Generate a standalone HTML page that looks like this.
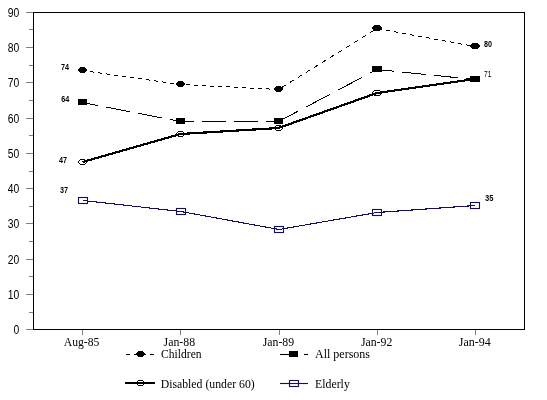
<!DOCTYPE html><html><head><meta charset="utf-8"><style>html,body{margin:0;padding:0;background:#fff;width:547px;height:400px;overflow:hidden}svg{display:block;will-change:transform}</style></head><body>
<svg width="547" height="400" viewBox="0 0 547 400">
<rect x="0" y="0" width="547" height="400" fill="#fff"/>
<line x1="26" y1="329.5" x2="33" y2="329.5" stroke="#808080" stroke-width="1"/>
<text x="13.55" y="333.5" font-family="Liberation Sans" font-size="12.5" textLength="5.75" lengthAdjust="spacingAndGlyphs" fill="#000">0</text>
<line x1="29" y1="312.5" x2="33" y2="312.5" stroke="#808080" stroke-width="1"/>
<line x1="26" y1="294.5" x2="33" y2="294.5" stroke="#808080" stroke-width="1"/>
<text x="7.80" y="298.5" font-family="Liberation Sans" font-size="12.5" textLength="11.50" lengthAdjust="spacingAndGlyphs" fill="#000">10</text>
<line x1="29" y1="276.5" x2="33" y2="276.5" stroke="#808080" stroke-width="1"/>
<line x1="26" y1="259.5" x2="33" y2="259.5" stroke="#808080" stroke-width="1"/>
<text x="7.80" y="263.5" font-family="Liberation Sans" font-size="12.5" textLength="11.50" lengthAdjust="spacingAndGlyphs" fill="#000">20</text>
<line x1="29" y1="241.5" x2="33" y2="241.5" stroke="#808080" stroke-width="1"/>
<line x1="26" y1="223.5" x2="33" y2="223.5" stroke="#808080" stroke-width="1"/>
<text x="7.80" y="227.5" font-family="Liberation Sans" font-size="12.5" textLength="11.50" lengthAdjust="spacingAndGlyphs" fill="#000">30</text>
<line x1="29" y1="206.5" x2="33" y2="206.5" stroke="#808080" stroke-width="1"/>
<line x1="26" y1="188.5" x2="33" y2="188.5" stroke="#808080" stroke-width="1"/>
<text x="7.80" y="192.5" font-family="Liberation Sans" font-size="12.5" textLength="11.50" lengthAdjust="spacingAndGlyphs" fill="#000">40</text>
<line x1="29" y1="171.5" x2="33" y2="171.5" stroke="#808080" stroke-width="1"/>
<line x1="26" y1="153.5" x2="33" y2="153.5" stroke="#808080" stroke-width="1"/>
<text x="7.80" y="157.5" font-family="Liberation Sans" font-size="12.5" textLength="11.50" lengthAdjust="spacingAndGlyphs" fill="#000">50</text>
<line x1="29" y1="135.5" x2="33" y2="135.5" stroke="#808080" stroke-width="1"/>
<line x1="26" y1="118.5" x2="33" y2="118.5" stroke="#808080" stroke-width="1"/>
<text x="7.80" y="122.5" font-family="Liberation Sans" font-size="12.5" textLength="11.50" lengthAdjust="spacingAndGlyphs" fill="#000">60</text>
<line x1="29" y1="100.5" x2="33" y2="100.5" stroke="#808080" stroke-width="1"/>
<line x1="26" y1="82.5" x2="33" y2="82.5" stroke="#808080" stroke-width="1"/>
<text x="7.80" y="86.5" font-family="Liberation Sans" font-size="12.5" textLength="11.50" lengthAdjust="spacingAndGlyphs" fill="#000">70</text>
<line x1="29" y1="65.5" x2="33" y2="65.5" stroke="#808080" stroke-width="1"/>
<line x1="26" y1="47.5" x2="33" y2="47.5" stroke="#808080" stroke-width="1"/>
<text x="7.80" y="51.5" font-family="Liberation Sans" font-size="12.5" textLength="11.50" lengthAdjust="spacingAndGlyphs" fill="#000">80</text>
<line x1="29" y1="29.5" x2="33" y2="29.5" stroke="#808080" stroke-width="1"/>
<line x1="26" y1="12.5" x2="33" y2="12.5" stroke="#808080" stroke-width="1"/>
<text x="7.80" y="16.5" font-family="Liberation Sans" font-size="12.5" textLength="11.50" lengthAdjust="spacingAndGlyphs" fill="#000">90</text>
<line x1="82.5" y1="330" x2="82.5" y2="335" stroke="#808080" stroke-width="1"/>
<text x="63.8" y="345.5" font-family="Liberation Serif" font-size="13" textLength="35.60000000000001" lengthAdjust="spacingAndGlyphs" fill="#000">Aug-85</text>
<line x1="180.5" y1="330" x2="180.5" y2="335" stroke="#808080" stroke-width="1"/>
<text x="163.6" y="345.5" font-family="Liberation Serif" font-size="13" textLength="31.49999999999999" lengthAdjust="spacingAndGlyphs" fill="#000">Jan-88</text>
<line x1="279.5" y1="330" x2="279.5" y2="335" stroke="#808080" stroke-width="1"/>
<text x="262.7" y="345.5" font-family="Liberation Serif" font-size="13" textLength="31.400000000000023" lengthAdjust="spacingAndGlyphs" fill="#000">Jan-89</text>
<line x1="377.5" y1="330" x2="377.5" y2="335" stroke="#808080" stroke-width="1"/>
<text x="360.9" y="345.5" font-family="Liberation Serif" font-size="13" textLength="31.400000000000023" lengthAdjust="spacingAndGlyphs" fill="#000">Jan-92</text>
<line x1="475.5" y1="330" x2="475.5" y2="335" stroke="#808080" stroke-width="1"/>
<text x="458.8" y="345.5" font-family="Liberation Serif" font-size="13" textLength="31.899999999999967" lengthAdjust="spacingAndGlyphs" fill="#000">Jan-94</text>
<rect x="33.5" y="12.5" width="491" height="317" fill="none" stroke="#000" stroke-width="1"/>
<polyline points="83.0,200.5 181.0,211.5 279.0,229.5 377.0,212.5 475.0,205.5" fill="none" stroke="#10105e" stroke-width="1.1" shape-rendering="crispEdges"/>
<polyline points="82.5,162.0 180.5,134.0 278.5,128.0 377.0,93.0 475.0,79.0" fill="none" stroke="#000" stroke-width="2.2" shape-rendering="crispEdges"/>
<path d="M82.50,102.50L98.00,105.51M106.00,107.06L130.00,111.71M138.00,113.26L162.00,117.91M170.00,119.46L180.50,121.50M180.50,121.50L194.00,121.50M202.00,121.50L226.00,121.50M234.00,121.50L258.00,121.50M266.00,121.50L278.50,121.50M278.50,121.50L298.00,111.21M306.00,106.98L330.00,94.31M338.00,90.09L362.00,77.42M370.00,73.20L377.00,69.50M377.00,69.50L394.00,71.23M402.00,72.05L426.00,74.50M434.00,75.32L458.00,77.77M466.00,78.58L475.00,79.50" fill="none" stroke="#000" stroke-width="1" shape-rendering="crispEdges"/>
<path d="M82.50,70.50L86.00,71.00M90.00,71.57L94.00,72.14M98.00,72.71L102.00,73.29M106.00,73.86L110.00,74.43M114.00,75.00L118.00,75.57M122.00,76.14L126.00,76.71M130.00,77.29L134.00,77.86M138.00,78.43L142.00,79.00M146.00,79.57L150.00,80.14M154.00,80.71L158.00,81.29M162.00,81.86L166.00,82.43M170.00,83.00L174.00,83.57M178.00,84.14L180.50,84.50M180.50,84.50L182.00,84.58M186.00,84.78L190.00,84.98M194.00,85.19L198.00,85.39M202.00,85.60L206.00,85.80M210.00,86.01L214.00,86.21M218.00,86.41L222.00,86.62M226.00,86.82L230.00,87.03M234.00,87.23L238.00,87.43M242.00,87.64L246.00,87.84M250.00,88.05L254.00,88.25M258.00,88.45L262.00,88.66M266.00,88.86L270.00,89.07M274.00,89.27L278.00,89.47M282.00,87.33L286.00,84.86M290.00,82.38L294.00,79.90M298.00,77.42L302.00,74.95M306.00,72.47L310.00,69.99M314.00,67.52L318.00,65.04M322.00,62.56L326.00,60.08M330.00,57.61L334.00,55.13M338.00,52.65L342.00,50.18M346.00,47.70L350.00,45.22M354.00,42.74L358.00,40.27M362.00,37.79L366.00,35.31M370.00,32.84L374.00,30.36M378.00,28.68L382.00,29.42M386.00,30.15L390.00,30.89M394.00,31.62L398.00,32.36M402.00,33.09L406.00,33.83M410.00,34.56L414.00,35.30M418.00,36.03L422.00,36.77M426.00,37.50L430.00,38.23M434.00,38.97L438.00,39.70M442.00,40.44L446.00,41.17M450.00,41.91L454.00,42.64M458.00,43.38L462.00,44.11M466.00,44.85L470.00,45.58M474.00,46.32L475.00,46.50" fill="none" stroke="#000" stroke-width="1" shape-rendering="crispEdges"/>
<rect x="78.5" y="197.5" width="9" height="6" fill="none" stroke="#10105e" stroke-width="1.1"/>
<rect x="176.5" y="208.5" width="9" height="6" fill="none" stroke="#10105e" stroke-width="1.1"/>
<rect x="274.5" y="226.5" width="9" height="6" fill="none" stroke="#10105e" stroke-width="1.1"/>
<rect x="372.5" y="209.5" width="9" height="6" fill="none" stroke="#10105e" stroke-width="1.1"/>
<rect x="470.5" y="202.5" width="9" height="6" fill="none" stroke="#10105e" stroke-width="1.1"/>
<rect x="80" y="159" width="5" height="1" fill="#000"/><rect x="80" y="164" width="5" height="1" fill="#000"/><rect x="79" y="160" width="1" height="1" fill="#000"/><rect x="85" y="160" width="1" height="1" fill="#000"/><rect x="79" y="163" width="1" height="1" fill="#000"/><rect x="85" y="163" width="1" height="1" fill="#000"/><rect x="78" y="161" width="1" height="2" fill="#000"/><rect x="86" y="161" width="1" height="2" fill="#000"/>
<rect x="178" y="131" width="5" height="1" fill="#000"/><rect x="178" y="136" width="5" height="1" fill="#000"/><rect x="177" y="132" width="1" height="1" fill="#000"/><rect x="183" y="132" width="1" height="1" fill="#000"/><rect x="177" y="135" width="1" height="1" fill="#000"/><rect x="183" y="135" width="1" height="1" fill="#000"/><rect x="176" y="133" width="1" height="2" fill="#000"/><rect x="184" y="133" width="1" height="2" fill="#000"/>
<rect x="276" y="125" width="5" height="1" fill="#000"/><rect x="276" y="130" width="5" height="1" fill="#000"/><rect x="275" y="126" width="1" height="1" fill="#000"/><rect x="281" y="126" width="1" height="1" fill="#000"/><rect x="275" y="129" width="1" height="1" fill="#000"/><rect x="281" y="129" width="1" height="1" fill="#000"/><rect x="274" y="127" width="1" height="2" fill="#000"/><rect x="282" y="127" width="1" height="2" fill="#000"/>
<rect x="374" y="90" width="6" height="1" fill="#000"/><rect x="374" y="95" width="6" height="1" fill="#000"/><rect x="373" y="91" width="1" height="1" fill="#000"/><rect x="380" y="91" width="1" height="1" fill="#000"/><rect x="373" y="94" width="1" height="1" fill="#000"/><rect x="380" y="94" width="1" height="1" fill="#000"/><rect x="372" y="92" width="1" height="2" fill="#000"/><rect x="381" y="92" width="1" height="2" fill="#000"/>
<rect x="472" y="76" width="6" height="1" fill="#000"/><rect x="472" y="81" width="6" height="1" fill="#000"/><rect x="471" y="77" width="1" height="1" fill="#000"/><rect x="478" y="77" width="1" height="1" fill="#000"/><rect x="471" y="80" width="1" height="1" fill="#000"/><rect x="478" y="80" width="1" height="1" fill="#000"/><rect x="470" y="78" width="1" height="2" fill="#000"/><rect x="479" y="78" width="1" height="2" fill="#000"/>
<rect x="78" y="99" width="9" height="6" fill="#000"/>
<rect x="176" y="118" width="9" height="6" fill="#000"/>
<rect x="274" y="118" width="9" height="6" fill="#000"/>
<rect x="372" y="66" width="10" height="6" fill="#000"/>
<rect x="470" y="76" width="10" height="6" fill="#000"/>
<path d="M80,67H85V68H86V69H87V71H86V72H85V73H80V72H79V71H78V69H79V68H80Z" fill="#000"/>
<path d="M178,81H183V82H184V83H185V85H184V86H183V87H178V86H177V85H176V83H177V82H178Z" fill="#000"/>
<path d="M276,86H281V87H282V88H283V90H282V91H281V92H276V91H275V90H274V88H275V87H276Z" fill="#000"/>
<path d="M374,25H380V26H381V27H382V29H381V30H380V31H374V30H373V29H372V27H373V26H374Z" fill="#000"/>
<path d="M472,43H478V44H479V45H480V47H479V48H478V49H472V48H471V47H470V45H471V44H472Z" fill="#000"/>
<text x="61" y="70" font-family="Liberation Sans" font-size="8.5" font-weight="bold" textLength="8" lengthAdjust="spacingAndGlyphs" fill="#000">74</text>
<text x="61.2" y="101.8" font-family="Liberation Sans" font-size="8.5" font-weight="bold" textLength="8" lengthAdjust="spacingAndGlyphs" fill="#000">64</text>
<text x="59" y="162.8" font-family="Liberation Sans" font-size="8.5" font-weight="bold" textLength="8" lengthAdjust="spacingAndGlyphs" fill="#000">47</text>
<text x="60" y="193" font-family="Liberation Sans" font-size="8.5" font-weight="bold" textLength="8" lengthAdjust="spacingAndGlyphs" fill="#000">37</text>
<text x="484.1" y="46.8" font-family="Liberation Sans" font-size="8.5" font-weight="bold" textLength="8" lengthAdjust="spacingAndGlyphs" fill="#000">80</text>
<text x="484" y="77.1" font-family="Liberation Sans" font-size="8.5" font-weight="normal" textLength="7.4" lengthAdjust="spacingAndGlyphs" fill="#000">71</text>
<text x="485" y="200.8" font-family="Liberation Sans" font-size="8.5" font-weight="bold" textLength="8.4" lengthAdjust="spacingAndGlyphs" fill="#000">35</text>
<line x1="126" y1="354.5" x2="154" y2="354.5" stroke="#000" stroke-width="1.1" stroke-dasharray="4 4"/>
<path d="M138,351H143V352H144V353H145V355H144V356H143V357H138V356H137V355H136V353H137V352H138Z" fill="#000"/>
<text x="161" y="357.6" font-family="Liberation Serif" font-size="12.5" textLength="40.6" lengthAdjust="spacingAndGlyphs" fill="#000">Children</text>
<line x1="280" y1="354.5" x2="289" y2="354.5" stroke="#000" stroke-width="1.1"/>
<line x1="304" y1="354.5" x2="308" y2="354.5" stroke="#000" stroke-width="1.1"/>
<rect x="289" y="351" width="9" height="6" fill="#000"/>
<text x="315" y="357.8" font-family="Liberation Serif" font-size="12.5" textLength="55" lengthAdjust="spacingAndGlyphs" fill="#000">All persons</text>
<rect x="125" y="382" width="30" height="2" fill="#000"/>
<rect x="138" y="380" width="5" height="1" fill="#000"/><rect x="138" y="385" width="5" height="1" fill="#000"/><rect x="137" y="381" width="1" height="4" fill="#000"/><rect x="143" y="381" width="1" height="4" fill="#000"/>
<text x="160.7" y="388" font-family="Liberation Serif" font-size="12.5" textLength="94" lengthAdjust="spacingAndGlyphs" fill="#000">Disabled (under 60)</text>
<line x1="280" y1="383.5" x2="308" y2="383.5" stroke="#10105e" stroke-width="1.1"/>
<rect x="289.5" y="380.5" width="9" height="6" fill="none" stroke="#10105e" stroke-width="1.1"/>
<text x="315" y="387.7" font-family="Liberation Serif" font-size="12.5" textLength="34.8" lengthAdjust="spacingAndGlyphs" fill="#000">Elderly</text>
</svg></body></html>
